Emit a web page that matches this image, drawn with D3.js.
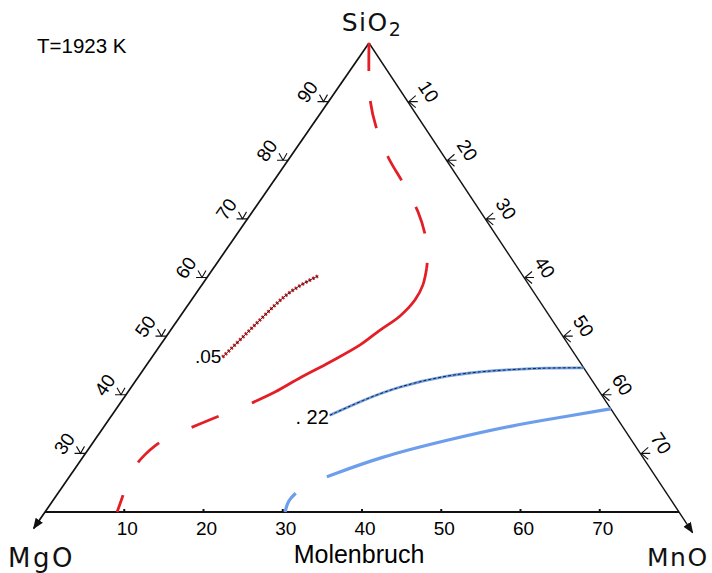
<!DOCTYPE html>
<html>
<head>
<meta charset="utf-8">
<script src="https://cdn.jsdelivr.net/npm/d3@7"></script>
<style>
body { margin: 0; background: #fff; }
svg { display: block; }
.num { font-family: "Liberation Sans", Arial, sans-serif; font-size: 19px; fill: #000; }
.corner { font-family: "DejaVu Sans", sans-serif; font-size: 25px; fill: #111; }
</style>
</head>
<body>
<script>
// compositions are [SiO2, MnO] in mol-%, MgO is the rest
var leftTicks = [30, 40, 50, 60, 70, 80, 90];      // SiO2
var rightTicks = [10, 20, 30, 40, 50, 60, 70];     // MnO along right edge
var baseTicks = [10, 20, 30, 40, 50, 60, 70];      // MnO along base

// red iso-line (dashed / solid / dashed)
var redUpper = [[100, 0], [94.5, 2.8], [90.3, 5.1], [85.7, 8.2], [80.6, 12.3], [75.8, 16.8],
                [71.2, 20.9], [66.7, 24.2], [63.8, 25.9], [61.6, 26.9]];
var redSolid = [[61.6, 26.9], [58.7, 27.9], [56.2, 28.2], [53.4, 27.7], [51.0, 26.4], [48.5, 25.2],
                [45.6, 22.9], [42.9, 20.5], [40.5, 18.6], [38.6, 16.6]];
var redLower = [[38.6, 16.6], [37.1, 14.6], [36.0, 13.1], [34.0, 10.6], [32.8, 9.2], [31.3, 8.1],
                [29.7, 7.6], [28.0, 7.4], [25.5, 7.7], [22.4, 8.5], [20, 9.1]];
// .05 line
var red05 = [[46.4, 8.9], [49.3, 9.6], [51.6, 10.1], [54.1, 10.7], [56.7, 11.3], [58.7, 12.4], [60.3, 13.9]];
// .22 line
var blue22 = [[36.5, 27.5], [39.1, 30.4], [41.3, 33.5], [43.4, 38.8], [44.2, 44.7], [44.6, 50.8], [44.6, 55.4]];
// lower blue line, null = gap
var blueLower = [[20, 30.3], [21.5, 29.8], [22.4, 29.8], [23.2, 30.0], null,
                 [26.0, 32.5], [29.4, 37.5], [32.3, 44.5], [34.8, 51.5], [36.2, 57.1], [37.6, 62.4]];

var width = 712, height = 573;
var apex = [369, 43], bl = [45, 512], br = [679, 512];
var red = "#e41e26", blue = "#6d9eeb";

// ternary projection built from linear scales
var sX = d3.scaleLinear().domain([20, 100]).range([0, apex[0] - bl[0]]);
var mX = d3.scaleLinear().domain([0, 80]).range([0, br[0] - bl[0]]);
var yS = d3.scaleLinear().domain([20, 100]).range([bl[1], apex[1]]);
function px(d) { return bl[0] + sX(d[0]) + mX(d[1]); }
function py(d) { return yS(d[0]); }

var svg = d3.select("body").append("svg")
    .attr("width", width)
    .attr("height", height);

svg.append("defs").append("marker")
    .attr("id", "arrow")
    .attr("viewBox", "0 0 10 10")
    .attr("refX", 9).attr("refY", 5)
    .attr("markerWidth", 11).attr("markerHeight", 11)
    .attr("markerUnits", "userSpaceOnUse")
    .attr("orient", "auto")
  .append("path")
    .attr("d", "M0,1 L10,5 L0,9 Z")
    .attr("fill", "#111");

var line = d3.line().x(px).y(py);
var curve = d3.line().defined(function(d) { return d; })
    .x(px).y(py).curve(d3.curveCatmullRom.alpha(0.5));
var smooth = d3.line().defined(function(d) { return d; })
    .x(px).y(py).curve(d3.curveBasis);

// triangle edges
svg.append("path")
    .attr("d", line([[100, 0], [17.2, 0]]))
    .attr("stroke", "#111").attr("stroke-width", 1.7).attr("fill", "none")
    .attr("marker-end", "url(#arrow)");
svg.append("path")
    .attr("d", line([[100, 0], [16.5, 83.5]]))
    .attr("stroke", "#111").attr("stroke-width", 1.4).attr("fill", "none")
    .attr("marker-end", "url(#arrow)");
svg.append("path")
    .attr("d", line([[20, 0], [20, 80]]))
    .attr("stroke", "#111").attr("stroke-width", 1.9).attr("fill", "none");

// left axis (SiO2)
var nL = [-0.823, -0.568], eL = [-0.568, 0.823];
var angL = Math.atan2(apex[1] - bl[1], apex[0] - bl[0]) * 180 / Math.PI;
leftTicks.forEach(function(v) {
    var p = [px([v, 0]), py([v, 0])];
    svg.append("path")
        .attr("d", "M" + (p[0] - 11) + "," + p[1] + "L" + p[0] + "," + p[1] +
                   "M" + (p[0] - 9) + "," + (p[1] - 7) + "L" + (p[0] - 5) + "," + p[1] + "L" + (p[0] - 1) + "," + (p[1] - 7))
        .attr("stroke", "#111").attr("stroke-width", 1.1).attr("fill", "none");
    var lx = p[0] + nL[0] * 23 + eL[0] * 4, ly = p[1] + nL[1] * 23 + eL[1] * 4;
    svg.append("text").attr("class", "num")
        .attr("transform", "translate(" + lx + "," + ly + ") rotate(" + angL + ")")
        .attr("text-anchor", "middle").attr("dy", "0.35em")
        .text(v);
});

// right axis (MnO)
var nR = [0.834, -0.551], eR = [0.551, 0.834];
var angR = Math.atan2(br[1] - apex[1], br[0] - apex[0]) * 180 / Math.PI;
rightTicks.forEach(function(v) {
    var d = [100 - v, v];
    var p = [px(d), py(d)];
    svg.append("path")
        .attr("d", "M" + (p[0] + 8) + "," + (p[1] - 6) + "L" + (p[0] + 1) + "," + p[1] + "L" + (p[0] + 8) + "," + (p[1] + 6) +
                   "M" + (p[0] + 1) + "," + p[1] + "L" + (p[0] + 10) + "," + p[1])
        .attr("stroke", "#111").attr("stroke-width", 1.1).attr("fill", "none");
    var lx = p[0] + nR[0] * 23 + eR[0] * 3, ly = p[1] + nR[1] * 23 + eR[1] * 3;
    svg.append("text").attr("class", "num")
        .attr("transform", "translate(" + lx + "," + ly + ") rotate(" + angR + ")")
        .attr("text-anchor", "middle").attr("dy", "0.35em")
        .text(v);
});

// base axis (MnO)
baseTicks.forEach(function(v) {
    var d = [20, v];
    svg.append("line")
        .attr("x1", px(d)).attr("x2", px(d))
        .attr("y1", py(d)).attr("y2", py(d) - 3)
        .attr("stroke", "#111").attr("stroke-width", 2);
    svg.append("text").attr("class", "num")
        .attr("x", px(d) + 3).attr("y", py(d) + 23)
        .attr("text-anchor", "middle")
        .text(v);
});

// red iso-line
svg.append("path").attr("d", curve(redUpper))
    .attr("stroke", red).attr("stroke-width", 2.8).attr("fill", "none")
    .attr("stroke-dasharray", "28,30");
svg.append("path").attr("d", curve(redSolid))
    .attr("stroke", red).attr("stroke-width", 2.8).attr("fill", "none");
svg.append("path").attr("d", curve(redLower))
    .attr("stroke", red).attr("stroke-width", 2.8).attr("fill", "none")
    .attr("stroke-dasharray", "29,36").attr("stroke-dashoffset", 29);

// .05 line: red with dark dotted trace
svg.append("path").attr("d", smooth(red05))
    .attr("stroke", red).attr("stroke-width", 3.6).attr("fill", "none")
    .attr("stroke-dasharray", "2,2");
svg.append("path").attr("d", smooth(red05))
    .attr("stroke", "#222").attr("stroke-width", 1).attr("fill", "none");

// .22 line: blue with dark dotted trace
svg.append("path").attr("d", smooth(blue22))
    .attr("stroke", blue).attr("stroke-width", 2.8).attr("fill", "none");
svg.append("path").attr("d", smooth(blue22))
    .attr("stroke", "#222").attr("stroke-width", 1).attr("fill", "none")
    .attr("stroke-dasharray", "3,2");

// lower blue line
svg.append("path").attr("d", smooth(blueLower))
    .attr("stroke", blue).attr("stroke-width", 3.2).attr("fill", "none");

// curve labels
svg.append("text").attr("class", "num")
    .attr("x", px(red05[0]) - 1).attr("y", py(red05[0]) + 6)
    .attr("text-anchor", "end")
    .text(".05");
svg.append("text").attr("class", "num")
    .attr("x", px(blue22[0]) - 1).attr("y", py(blue22[0]) + 9)
    .attr("text-anchor", "end").style("font-size", "20px")
    .text(". 22");

// corner labels
var si = svg.append("text").attr("class", "corner")
    .attr("x", px([100, 0]) + 3).attr("y", py([100, 0]) - 12)
    .attr("text-anchor", "middle").style("letter-spacing", "1.5px");
si.append("tspan").text("SiO");
si.append("tspan").attr("dy", 5).style("font-size", "19px").text("2");

svg.append("text").attr("class", "corner")
    .attr("x", 8).attr("y", 567)
    .style("font-size", "26px").style("letter-spacing", "2.5px")
    .text("MgO");
svg.append("text").attr("class", "corner")
    .attr("x", 647).attr("y", 566)
    .style("letter-spacing", "1.5px")
    .text("MnO");

svg.append("text").attr("class", "num")
    .attr("x", (px([20, 0]) + px([20, 80])) / 2 - 3).attr("y", 563)
    .attr("text-anchor", "middle").style("font-size", "25px")
    .text("Molenbruch");

svg.append("text").attr("class", "num")
    .attr("x", 37).attr("y", 53)
    .style("font-size", "20.5px")
    .text("T=1923 K");
</script>
</body>
</html>
